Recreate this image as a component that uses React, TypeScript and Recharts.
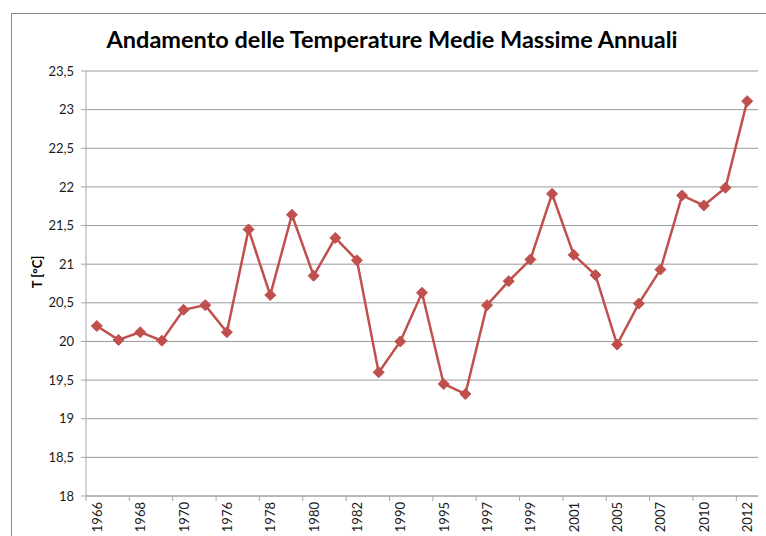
import { CartesianGrid, Line, LineChart, XAxis, YAxis } from 'recharts'

const YEARS = [
  '1966', '1967', '1968', '1969', '1970', '1975', '1976', '1977', '1978', '1979',
  '1980', '1981', '1982', '1983', '1990', '1994', '1995', '1996', '1997', '1998',
  '1999', '2000', '2001', '2004', '2005', '2006', '2007', '2009', '2010', '2011', '2012',
]

const TEMPS = [
  20.2, 20.02, 20.12, 20.01, 20.41, 20.47, 20.12, 21.45, 20.6, 21.64,
  20.85, 21.34, 21.05, 19.6, 20.0, 20.63, 19.45, 19.32, 20.47, 20.78,
  21.06, 21.91, 21.12, 20.86, 19.96, 20.49, 20.93, 21.89, 21.76, 21.99, 23.11,
]

const Y_TICKS = [18, 18.5, 19, 19.5, 20, 20.5, 21, 21.5, 22, 22.5, 23, 23.5]

const TITLE = 'Andamento delle Temperature Medie Massime Annuali'
const Y_LABEL = 'T [°C]'

const FONT = 'Lato, "Open Sans", sans-serif'
const RED = '#c0504d'
const AXIS = '#a6a6a6'

const data = YEARS.map((year, i) => ({ idx: i, year, t: TEMPS[i] }))

// Excel style: a label on every other category, tick marks on category boundaries
const xTicks = data
  .filter(d => d.idx % 2 === 0)
  .flatMap(d => [d.idx - 0.5, d.idx])
const xDomain = [-0.5, YEARS.length - 0.5]

function YearTick({ x, y, payload }: any) {
  const v = payload.value
  if (!Number.isInteger(v)) {
    return <line x1={x} y1={y} x2={x} y2={y + 5} stroke={AXIS} />
  }
  const ty = y + 6
  return (
    <text
      x={x}
      y={ty}
      transform={`rotate(-90, ${x}, ${ty})`}
      textAnchor="end"
      dominantBaseline="central"
      fontSize={13}
      fontFamily={FONT}
      fill="#1a1a1a"
    >
      {YEARS[v]}
    </text>
  )
}

function Diamond({ cx, cy }: any) {
  if (cx == null || cy == null) return null
  const r = 5.5
  return (
    <polygon
      points={`${cx},${cy - r} ${cx + r},${cy} ${cx},${cy + r} ${cx - r},${cy}`}
      fill={RED}
      stroke={RED}
      strokeWidth={1}
    />
  )
}

export default function App() {
  return (
    <div style={{ position: 'absolute', left: 0, top: 0, width: 766, height: 536, overflow: 'hidden', background: '#fff' }}>
      <div style={{ position: 'absolute', left: 11, top: 13, width: 900, height: 700, border: '1px solid #8a8a8a' }} />

      <div
        style={{
          position: 'absolute', left: 0, width: 784, top: 25, textAlign: 'center',
          fontFamily: FONT, fontWeight: 700, fontSize: 23.5, color: '#000',
        }}
      >
        {TITLE}
      </div>

      <div
        style={{
          position: 'absolute', left: 37, top: 272, transform: 'translate(-50%, -50%) rotate(-90deg)',
          fontFamily: FONT, fontWeight: 700, fontSize: 13, color: '#000', whiteSpace: 'nowrap',
        }}
      >
        {Y_LABEL}
      </div>

      <div style={{ position: 'absolute', left: 0, top: 0 }}>
        <LineChart width={766} height={536} data={data} margin={{ top: 71, right: 8, bottom: 0, left: 26 }}>
          <CartesianGrid vertical={false} stroke="#9a9a9a" />
          <XAxis
            type="number"
            dataKey="idx"
            domain={xDomain}
            allowDataOverflow
            ticks={xTicks}
            interval={0}
            tick={<YearTick />}
            tickSize={0}
            tickMargin={0}
            tickLine={false}
            axisLine={{ stroke: AXIS }}
            height={40}
          />
          <YAxis
            type="number"
            domain={[18, 23.5]}
            ticks={Y_TICKS}
            interval={0}
            width={60}
            tickSize={5}
            tickMargin={7}
            tickFormatter={(v: number) => String(v).replace('.', ',')}
            tick={{ fontSize: 13, fontFamily: FONT, fill: '#1a1a1a' }}
            axisLine={{ stroke: AXIS }}
            tickLine={{ stroke: AXIS }}
          />
          <Line
            type="linear"
            dataKey="t"
            stroke={RED}
            strokeWidth={2.5}
            dot={<Diamond />}
            activeDot={false}
            isAnimationActive={false}
          />
        </LineChart>
      </div>
    </div>
  )
}
